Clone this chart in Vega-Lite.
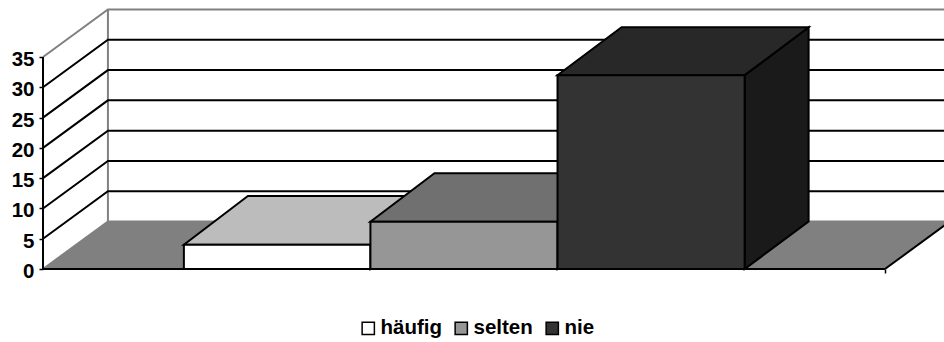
{
  "$schema": "https://vega.github.io/schema/vega-lite/v6.json",
  "width": 901,
  "height": 342,
  "autosize": "none",
  "padding": {"left": 43, "top": 0, "right": 0, "bottom": 0},
  "background": "white",
  "view": {"stroke": null},
  "datasets": {
    "floor": [
      {"val": 0, "pos": 0, "pos2": 4.5},
      {"val": 7.84, "pos": 0.347, "pos2": 4.847}
    ],
    "wallEdges": [
      {"edge": "top", "pos": 0, "val": 35},
      {"edge": "top", "pos": 0.347, "val": 42.84},
      {"edge": "top", "pos": 4.847, "val": 42.84},
      {"edge": "corner", "pos": 0.347, "val": 7.84},
      {"edge": "corner", "pos": 0.347, "val": 42.84},
      {"edge": "floorLeft", "pos": 0, "val": 0},
      {"edge": "floorLeft", "pos": 0.347, "val": 7.84},
      {"edge": "floorBack", "pos": 0.347, "val": 7.84},
      {"edge": "floorBack", "pos": 4.847, "val": 7.84}
    ],
    "gridLines": [
      {"edge": "g5", "pos": 0, "val": 5},
      {"edge": "g5", "pos": 0.347, "val": 12.84},
      {"edge": "g5", "pos": 4.847, "val": 12.84},
      {"edge": "g10", "pos": 0, "val": 10},
      {"edge": "g10", "pos": 0.347, "val": 17.84},
      {"edge": "g10", "pos": 4.847, "val": 17.84},
      {"edge": "g15", "pos": 0, "val": 15},
      {"edge": "g15", "pos": 0.347, "val": 22.84},
      {"edge": "g15", "pos": 4.847, "val": 22.84},
      {"edge": "g20", "pos": 0, "val": 20},
      {"edge": "g20", "pos": 0.347, "val": 27.84},
      {"edge": "g20", "pos": 4.847, "val": 27.84},
      {"edge": "g25", "pos": 0, "val": 25},
      {"edge": "g25", "pos": 0.347, "val": 32.84},
      {"edge": "g25", "pos": 4.847, "val": 32.84},
      {"edge": "g30", "pos": 0, "val": 30},
      {"edge": "g30", "pos": 0.347, "val": 37.84},
      {"edge": "g30", "pos": 4.847, "val": 37.84},
      {"edge": "axisY", "pos": 0, "val": 0},
      {"edge": "axisY", "pos": 0, "val": 35},
      {"edge": "axisX", "pos": 0, "val": 0},
      {"edge": "axisX", "pos": 4.5, "val": 0},
      {"edge": "floorRight", "pos": 4.5, "val": 0},
      {"edge": "floorRight", "pos": 4.847, "val": 7.84}
    ],
    "sides": [
      {"series": "häufig", "pos": 1.75, "val": 4, "val2": 0},
      {"series": "häufig", "pos": 2.092, "val": 12.05, "val2": 7.84},
      {"series": "selten", "pos": 2.75, "val": 7.8, "val2": 0},
      {"series": "selten", "pos": 3.092, "val": 15.8, "val2": 7.84},
      {"series": "nie", "pos": 3.75, "val": 32, "val2": 0},
      {"series": "nie", "pos": 4.092, "val": 39.9, "val2": 7.84}
    ],
    "tops": [
      {"series": "häufig", "val": 4, "pos": 0.753, "pos2": 1.75},
      {"series": "häufig", "val": 12.05, "pos": 1.095, "pos2": 2.092},
      {"series": "selten", "val": 7.8, "pos": 1.75, "pos2": 2.75},
      {"series": "selten", "val": 15.8, "pos": 2.092, "pos2": 3.092},
      {"series": "nie", "val": 32, "pos": 2.75, "pos2": 3.75},
      {"series": "nie", "val": 39.9, "pos": 3.092, "pos2": 4.092}
    ],
    "fronts": [
      {"series": "häufig", "pos": 0.753, "pos2": 1.75, "val": 4, "val2": 0},
      {"series": "selten", "pos": 1.75, "pos2": 2.75, "val": 7.8, "val2": 0},
      {"series": "nie", "pos": 2.75, "pos2": 3.75, "val": 32, "val2": 0}
    ]
  },
  "encoding": {
    "x": {
      "field": "pos",
      "type": "quantitative",
      "title": null,
      "scale": {"domain": [0, 4.8156], "nice": false, "zero": false},
      "axis": {
        "orient": "bottom",
        "offset": -73,
        "values": [4.5],
        "labels": false,
        "domain": false,
        "grid": false,
        "tickColor": "black",
        "tickWidth": 1.5,
        "tickSize": 4
      }
    },
    "y": {
      "field": "val",
      "type": "quantitative",
      "title": null,
      "scale": {"domain": [-12.05, 44.41], "nice": false, "zero": false},
      "axis": {
        "values": [0, 5, 10, 15, 20, 25, 30, 35],
        "domain": false,
        "grid": false,
        "tickColor": "black",
        "tickWidth": 1.5,
        "tickSize": 4,
        "labelPadding": 5,
        "labelOffset": 2.5,
        "labelFont": "Liberation Sans",
        "labelFontWeight": "bold",
        "labelFontSize": 20.5,
        "labelColor": "black"
      }
    }
  },
  "layer": [
    {
      "data": {"name": "floor"},
      "mark": {"type": "area", "orient": "horizontal", "color": "#808080"},
      "encoding": {"x2": {"field": "pos2"}}
    },
    {
      "data": {"name": "wallEdges"},
      "mark": {"type": "line", "color": "#808080", "strokeWidth": 2},
      "encoding": {"detail": {"field": "edge"}}
    },
    {
      "data": {"name": "gridLines"},
      "mark": {"type": "line", "color": "black", "strokeWidth": 2},
      "encoding": {"detail": {"field": "edge"}}
    },
    {
      "data": {"name": "sides"},
      "mark": {"type": "area", "orient": "vertical", "stroke": "black", "strokeWidth": 2},
      "encoding": {
        "y2": {"field": "val2"},
        "fill": {
          "field": "series",
          "legend": null,
          "scale": {"domain": ["häufig", "selten", "nie"], "range": ["#a0a0a0", "#5a5a5a", "#1a1a1a"]}
        }
      }
    },
    {
      "data": {"name": "tops"},
      "mark": {"type": "area", "orient": "horizontal", "stroke": "black", "strokeWidth": 2},
      "encoding": {
        "x2": {"field": "pos2"},
        "fill": {
          "field": "series",
          "legend": null,
          "scale": {"domain": ["häufig", "selten", "nie"], "range": ["#bcbcbc", "#707070", "#282828"]}
        }
      }
    },
    {
      "data": {"name": "fronts"},
      "mark": {"type": "rect", "stroke": "black", "strokeWidth": 2},
      "encoding": {
        "x2": {"field": "pos2"},
        "y2": {"field": "val2"},
        "fill": {
          "field": "series",
          "scale": {"domain": ["häufig", "selten", "nie"], "range": ["#ffffff", "#969696", "#333333"]},
          "legend": {
            "title": null,
            "orient": "none",
            "legendX": 315,
            "legendY": 318,
            "direction": "horizontal",
            "columns": 3,
            "columnPadding": 9,
            "padding": 0,
            "symbolType": "square",
            "symbolSize": 150,
            "symbolStrokeColor": "black",
            "symbolStrokeWidth": 1.5,
            "labelFont": "Liberation Sans",
            "labelFontWeight": "bold",
            "labelFontSize": 20.5,
            "labelColor": "black",
            "labelOffset": 2
          }
        }
      }
    }
  ],
  "resolve": {"scale": {"fill": "independent"}}
}
